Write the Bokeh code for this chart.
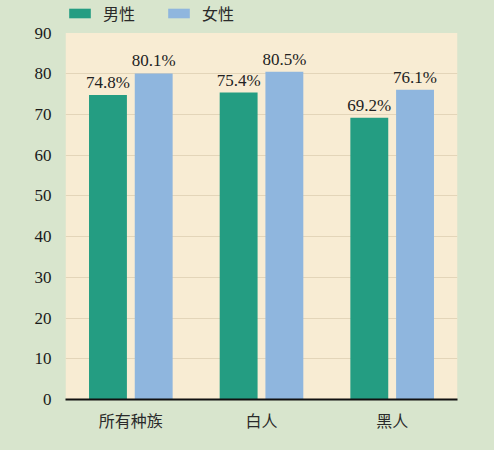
from bokeh.plotting import figure
from bokeh.models import (ColumnDataSource, FactorRange, Legend, LegendItem, FixedTicker,
                          Range1d, BoxAnnotation)
from bokeh.transform import dodge
from bokeh.embed import file_html
from bokeh.resources import INLINE

groups = ["所有种族", "白人", "黑人"]
male = [74.8, 75.4, 69.2]
female = [80.1, 80.5, 76.1]
series_names = ["男性", "女性"]
y_ticks = [0, 10, 20, 30, 40, 50, 60, 70, 80, 90]

GREEN = "#249d82"
BLUE = "#8fb6de"
PAGE_BG = "#d8e5cd"
PLOT_BG = "#f8ecd3"

source = ColumnDataSource(data=dict(
    groups=groups,
    male=male,
    female=female,
    male_txt=["%.1f%%" % v for v in male],
    female_txt=["%.1f%%" % v for v in female],
))

# frame runs to the top of the page so the legend can sit inside it
p = figure(x_range=FactorRange(*groups, range_padding=0), y_range=Range1d(0, 98.0),
           width=494, height=450, output_backend="svg", toolbar_location=None,
           min_border_left=65, min_border_right=37, min_border_bottom=51, min_border_top=0)
p.background_fill_color = PAGE_BG
p.border_fill_color = PAGE_BG
p.outline_line_color = None

# cream panel only up to 90
p.add_layout(BoxAnnotation(bottom=0, top=90, fill_color=PLOT_BG, fill_alpha=1,
                           line_color=None, level="image"))

r1 = p.vbar(x=dodge("groups", -0.175, range=p.x_range), top="male", width=0.29,
            source=source, color=GREEN, line_color=None)
r2 = p.vbar(x=dodge("groups", 0.175, range=p.x_range), top="female", width=0.29,
            source=source, color=BLUE, line_color=None)

for col, off in (("male", -0.175), ("female", 0.175)):
    p.text(x=dodge("groups", off, range=p.x_range), y=col, text=col + "_txt", source=source,
           text_align="center", text_baseline="bottom", y_offset=-3,
           text_font_size="17px", text_color="#222222", text_font={"value": "Liberation Serif"})

p.xgrid.grid_line_color = None
p.ygrid.grid_line_color = "#e3d5b9"
p.ygrid.grid_line_width = 1
p.ygrid.ticker = FixedTicker(ticks=y_ticks[1:-1])
p.yaxis.ticker = FixedTicker(ticks=y_ticks)
p.yaxis.axis_line_color = None
p.yaxis.major_tick_line_color = None
p.yaxis.minor_tick_line_color = None
p.yaxis.major_label_text_font = "Liberation Serif"
p.yaxis.major_label_text_font_size = "17px"
p.yaxis.major_label_text_color = "#1a1a1a"
p.yaxis.major_label_standoff = 8

p.xaxis.axis_line_color = "#111111"
p.xaxis.axis_line_width = 2
p.xaxis.major_tick_line_color = None
p.xaxis.major_label_text_font = "Noto Sans CJK SC"
p.xaxis.major_label_text_font_size = "16px"
p.xaxis.major_label_text_color = "#2a2a2a"
p.xaxis.major_label_standoff = 2

legend = Legend(items=[LegendItem(label=series_names[0], renderers=[r1]),
                       LegendItem(label=series_names[1], renderers=[r2])],
                orientation="horizontal", location=(1, 374))
legend.background_fill_alpha = 0
legend.border_line_color = None
legend.label_text_font = "Noto Sans CJK SC"
legend.label_text_font_size = "16px"
legend.label_text_color = "#2a2a2a"
legend.label_height = 20
legend.glyph_width = 27
legend.glyph_height = 12
legend.label_standoff = 10
legend.spacing = 30
legend.padding = 0
legend.margin = 0
p.add_layout(legend)

html = file_html(p, INLINE)
html = html.replace("<body>", '<body style="background:%s">' % PAGE_BG)
open("out.html", "w").write(html)
